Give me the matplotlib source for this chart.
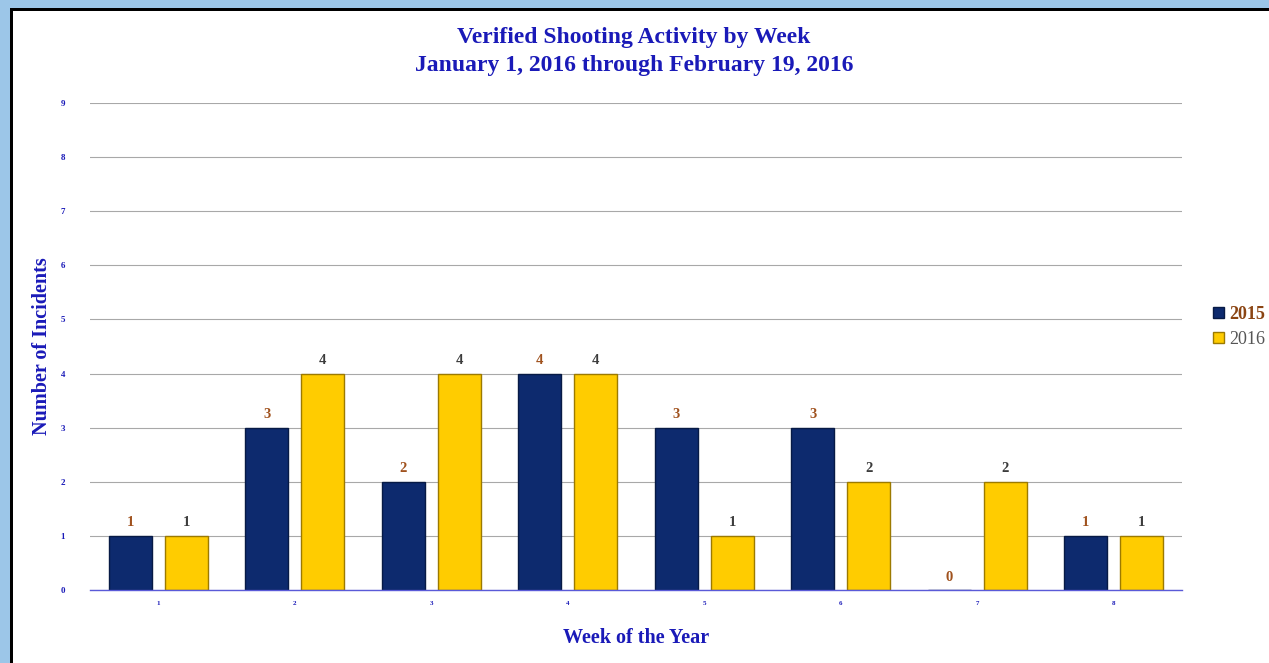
import matplotlib
matplotlib.use("Agg")
import matplotlib.pyplot as plt
import numpy as np
from matplotlib.patches import Rectangle

weeks = ["1", "2", "3", "4", "5", "6", "7", "8"]
y2015 = [1, 3, 2, 4, 3, 3, 0, 1]
y2016 = [1, 4, 4, 4, 1, 2, 2, 1]
series_names = ["2015", "2016"]

plt.rcParams['font.family'] = ['Liberation Serif', 'DejaVu Serif']

W, H = 1269, 663
fig = plt.figure(figsize=(W/100, H/100), dpi=100)
fig.patch.set_facecolor('#9cc6e8')
# frame
fig.patches.append(Rectangle((10/W, 0), 1.0, 1 - 8/H, transform=fig.transFigure,
                             facecolor='black', edgecolor='none', zorder=-2))
fig.patches.append(Rectangle((13/W, 0), 1.0, 1 - 11/H, transform=fig.transFigure,
                             facecolor='white', edgecolor='none', zorder=-1))

ax = fig.add_axes([90/W, 73/H, 1092/W, 487/H])
ax.set_zorder(2)
ax.set_facecolor('none')
x = np.arange(len(weeks))
bw = 0.315
off = 0.205
navy = '#0d2a6e'
gold = '#ffcc00'
b1 = ax.bar(x - off, y2015, bw, color=navy, edgecolor='#071a45', linewidth=1, zorder=3, label=series_names[0])
b2 = ax.bar(x + off, y2016, bw, color=gold, edgecolor='#9c7a00', linewidth=1, zorder=3, label=series_names[1])

for xi, v in zip(x, y2015):
    ax.text(xi - off, v + 0.12, str(v), ha='center', va='bottom', fontsize=10.5,
            fontweight='bold', color='#a0521e')
for xi, v in zip(x, y2016):
    ax.text(xi + off, v + 0.12, str(v), ha='center', va='bottom', fontsize=10.5,
            fontweight='bold', color='#3c3c3c')

ax.set_xlim(-0.5, len(weeks) - 0.5)
ax.set_ylim(0, 9)
ax.set_yticks(range(0, 10))
ax.set_xticks(x)
ax.set_xticklabels(weeks)
ax.tick_params(axis='y', length=0, labelsize=6.5, labelcolor='#1a1ab8', pad=18)
ax.tick_params(axis='x', length=0, labelsize=5, labelcolor='#1a1ab8', pad=8)
for lab in ax.get_yticklabels() + ax.get_xticklabels():
    lab.set_fontweight('bold')
ax.grid(axis='y', color='#a8a8a8', linewidth=0.8, zorder=1)
for s in ['top', 'right', 'left']:
    ax.spines[s].set_visible(False)
ax.spines['bottom'].set_color('#5a5ad8')
ax.spines['bottom'].set_linewidth(1)
ax.spines['bottom'].set_zorder(4)

ax.set_ylabel("Number of Incidents", fontsize=14.5, fontweight='bold', color='#1a1ab8', labelpad=6)
ax.set_xlabel("Week of the Year", fontsize=14.5, fontweight='bold', color='#1a1ab8', labelpad=16)

fig.text(634/W, 1 - 38/H, "Verified Shooting Activity by Week", ha='center', va='center',
         fontsize=17, fontweight='bold', color='#1a1ab8')
fig.text(634/W, 1 - 66/H, "January 1, 2016 through February 19, 2016", ha='center', va='center',
         fontsize=17, fontweight='bold', color='#1a1ab8')

leg = fig.legend(handles=[b1, b2], labels=series_names, loc='upper left',
                 bbox_to_anchor=(1213/W, 1 - 306/H), frameon=False,
                 fontsize=13, handlelength=0.6, handleheight=0.6, handletextpad=0.3,
                 labelspacing=0.45, borderaxespad=0, borderpad=0)
texts = leg.get_texts()
texts[0].set_fontweight('bold')
texts[0].set_color('#8b4513')
texts[1].set_color('#555555')

fig.savefig("out.png", dpi=100, facecolor=fig.get_facecolor())
